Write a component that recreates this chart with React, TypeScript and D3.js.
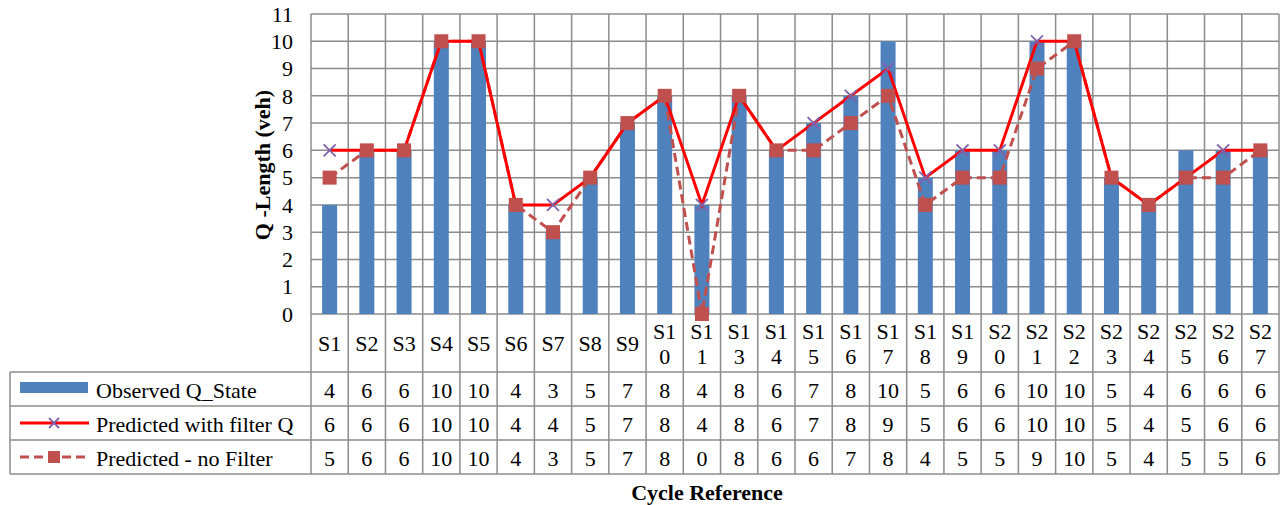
import React from "react";
import * as d3 from "d3";

const categories = ["S1","S2","S3","S4","S5","S6","S7","S8","S9","S10","S11","S13","S14","S15","S16","S17","S18","S19","S20","S21","S22","S23","S24","S25","S26","S27"];
const observed = [4,6,6,10,10,4,3,5,7,8,4,8,6,7,8,10,5,6,6,10,10,5,4,6,6,6];
const withFilter = [6,6,6,10,10,4,4,5,7,8,4,8,6,7,8,9,5,6,6,10,10,5,4,5,6,6];
const noFilter = [5,6,6,10,10,4,3,5,7,8,0,8,6,6,7,8,4,5,5,9,10,5,4,5,5,6];
const yTicks = [0,1,2,3,4,5,6,7,8,9,10,11];
const seriesNames = ["Observed Q_State", "Predicted with filter Q", "Predicted - no Filter"];

const W = 1281, H = 505;
const left = 311, right = 1279, top = 14, bottom = 314;
const tableLeft = 10;
const catBottom = 372;
const rowH = 34;
const FONT = "'Liberation Serif', 'Times New Roman', serif";
const GRID = "#8c8c8c";
const FS = 22;

export default function App() {
  const x = d3.scaleBand<string>().domain(categories).range([left, right]).padding(0);
  const y = d3.scaleLinear().domain([0, 11]).range([bottom, top]);
  const bw = x.bandwidth();
  const cx = (i: number) => (x(categories[i]) as number) + bw / 2;
  const line = d3.line<number>().x((_, i) => cx(i)).y((d) => y(d));
  const rows = [observed, withFilter, noFilter];
  const tableBottom = catBottom + rowH * 3;

  return (
    <svg width={W} height={H} style={{ position: "absolute", left: 0, top: 0, background: "#fff" }} fontFamily={FONT}>
      {yTicks.map((t) => (
        <line key={"h" + t} x1={left} x2={right} y1={y(t)} y2={y(t)} stroke={GRID} strokeWidth={1.5} />
      ))}
      {categories.map((c, i) => (
        <line key={"v" + i} x1={x(c) as number} x2={x(c) as number} y1={top} y2={tableBottom} stroke={GRID} strokeWidth={1.5} />
      ))}
      <line x1={right} x2={right} y1={top} y2={tableBottom} stroke={GRID} strokeWidth={1.5} />
      {[0, 1, 2, 3].map((r) => (
        <line key={"tr" + r} x1={tableLeft} x2={right} y1={catBottom + r * rowH} y2={catBottom + r * rowH} stroke={GRID} strokeWidth={1.5} />
      ))}
      <line x1={tableLeft} x2={tableLeft} y1={catBottom} y2={tableBottom} stroke={GRID} strokeWidth={1.5} />

      {yTicks.map((t) => (
        <text key={"yt" + t} x={293} y={y(t)} dy="0.35em" textAnchor="end" fontSize={FS} fill="#000">{t}</text>
      ))}

      {observed.map((v, i) => (
        <rect key={"b" + i} x={cx(i) - 7.5} width={15} y={y(v)} height={bottom - y(v)} fill="#4F81BD" />
      ))}

      <path d={line(noFilter) || ""} fill="none" stroke="#C0504D" strokeWidth={3} strokeDasharray="9,5" />
      <path d={line(withFilter) || ""} fill="none" stroke="#FF0000" strokeWidth={3} />
      {withFilter.map((v, i) => (
        <g key={"m" + i} transform={`translate(${cx(i)},${y(v)})`} stroke="#7F62AB" strokeWidth={1.8}>
          <line x1={-6} y1={-6} x2={6} y2={6} />
          <line x1={-6} y1={6} x2={6} y2={-6} />
        </g>
      ))}
      {noFilter.map((v, i) => (
        <rect key={"s" + i} x={cx(i) - 7} y={y(v) - 7} width={14} height={14} fill="#C0504D" />
      ))}

      {categories.map((c, i) => {
        if (c.length <= 2) {
          return <text key={"c" + i} x={cx(i)} y={343} dy="0.35em" textAnchor="middle" fontSize={FS}>{c}</text>;
        }
        return (
          <g key={"c" + i}>
            <text x={cx(i)} y={331} dy="0.35em" textAnchor="middle" fontSize={FS}>{c.slice(0, 2)}</text>
            <text x={cx(i)} y={356} dy="0.35em" textAnchor="middle" fontSize={FS}>{c.slice(2)}</text>
          </g>
        );
      })}

      {rows.map((row, r) =>
        row.map((v, i) => (
          <text key={"tv" + r + "_" + i} x={cx(i)} y={catBottom + r * rowH + rowH / 2 + 1} dy="0.35em" textAnchor="middle" fontSize={FS}>{v}</text>
        ))
      )}

      <rect x={20} y={382} width={68} height={11} fill="#4F81BD" />
      <line x1={20} x2={89} y1={catBottom + rowH * 1.5} y2={catBottom + rowH * 1.5} stroke="#FF0000" strokeWidth={3} />
      <g transform={`translate(54,${catBottom + rowH * 1.5})`} stroke="#7F62AB" strokeWidth={1.8}>
        <line x1={-5} y1={-5} x2={5} y2={5} />
        <line x1={-5} y1={5} x2={5} y2={-5} />
      </g>
      <line x1={20} x2={89} y1={catBottom + rowH * 2.5} y2={catBottom + rowH * 2.5} stroke="#C0504D" strokeWidth={3} strokeDasharray="9,5" />
      <rect x={48} y={catBottom + rowH * 2.5 - 6} width={12} height={12} fill="#C0504D" />
      {seriesNames.map((n, r) => (
        <text key={"ln" + r} x={96} y={catBottom + r * rowH + rowH / 2 + 1} dy="0.35em" fontSize={FS}>{n}</text>
      ))}

      <text transform={`translate(262,165) rotate(-90)`} textAnchor="middle" dy="0.35em" fontSize={FS} fontWeight="bold">Q -Length (veh)</text>
      <text x={707} y={492} textAnchor="middle" dy="0.35em" fontSize={FS} fontWeight="bold">Cycle Reference</text>
    </svg>
  );
}
